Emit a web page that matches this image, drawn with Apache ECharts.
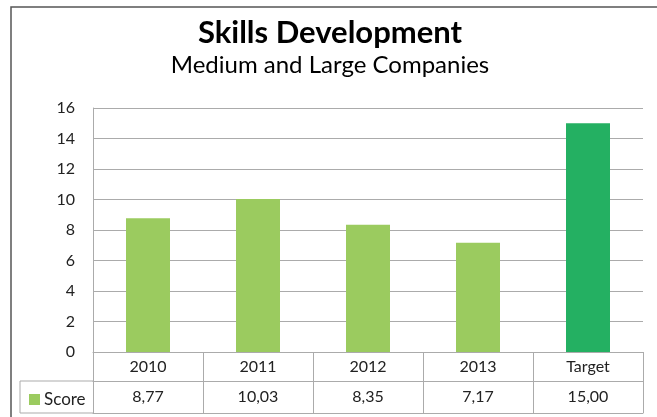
<!DOCTYPE html>
<html>
<head>
<meta charset="utf-8">
<script src="https://cdn.jsdelivr.net/npm/echarts@6/dist/echarts.min.js"></script>
<style>
  html, body { margin: 0; padding: 0; background: #fff; }
  #main { width: 657px; height: 417px; }
</style>
</head>
<body>
<div id="main"></div>
<script>
// chart data
var categories = ['2010', '2011', '2012', '2013', 'Target'];
var scores = [8.77, 10.03, 8.35, 7.17, 15.00];
var seriesName = 'Score';
var yTicks = { min: 0, max: 16, interval: 2 };

var lightGreen = '#9BCB5F';
var darkGreen = '#24B062';
var lineGray = '#ABABAB';
var font = 'Lato, "Open Sans", sans-serif';

var myChart = echarts.init(document.getElementById('main'));

// values shown in the data table row, comma as decimal mark
var scoreLabels = scores.map(function (v) {
    return v.toFixed(2).replace('.', ',');
});

var option = {
    backgroundColor: '#fff',
    animation: false,
    title: [{
        text: 'Skills Development',
        left: 325,
        top: 12,
        textAlign: 'center',
        textStyle: { fontFamily: font, fontSize: 31, fontWeight: 'bold', color: '#000' }
    }, {
        text: 'Medium and Large Companies',
        left: 325,
        top: 48,
        textAlign: 'center',
        textStyle: { fontFamily: font, fontSize: 24, fontWeight: 'normal', color: '#000' }
    }],
    legend: {
        data: [seriesName],
        left: 24,
        top: 386,
        icon: 'rect',
        itemWidth: 11,
        itemHeight: 11,
        itemGap: 4,
        textStyle: { fontFamily: font, fontSize: 17, color: '#222', padding: [0, 0, 0, -1] }
    },
    grid: { left: 93, right: 14, top: 108, bottom: 65 },
    xAxis: [{
        type: 'category',
        data: categories,
        position: 'bottom',
        axisLine: { lineStyle: { color: lineGray, width: 1 } },
        axisTick: { show: true, length: 61, lineStyle: { color: lineGray } },
        axisLabel: { margin: 7, fontFamily: font, fontSize: 16, color: '#222' }
    }, {
        type: 'category',
        data: scoreLabels,
        position: 'bottom',
        offset: 29,
        axisLine: { lineStyle: { color: lineGray, width: 1 } },
        axisTick: { show: false },
        axisLabel: { margin: 8, fontFamily: font, fontSize: 16, color: '#222' }
    }, {
        type: 'category',
        data: categories,
        position: 'bottom',
        offset: 61,
        axisLine: { lineStyle: { color: lineGray, width: 1 } },
        axisTick: { show: false },
        axisLabel: { show: false }
    }],
    yAxis: {
        type: 'value',
        min: yTicks.min,
        max: yTicks.max,
        interval: yTicks.interval,
        axisLine: { show: true, lineStyle: { color: lineGray } },
        axisTick: { show: false },
        splitLine: { lineStyle: { color: lineGray } },
        axisLabel: { margin: 18, fontFamily: font, fontSize: 16, color: '#222' }
    },
    series: [{
        name: seriesName,
        type: 'bar',
        xAxisIndex: 0,
        barWidth: '40%',
        itemStyle: { color: lightGreen },
        data: scores.map(function (v, i) {
            return categories[i] === 'Target'
                ? { value: v, itemStyle: { color: darkGreen } }
                : v;
        })
    }],
    graphic: [
        // outer chart frame
        { type: 'rect', shape: { x: 11, y: 7, width: 700, height: 500 },
          style: { fill: null, stroke: '#555', lineWidth: 1.5 }, silent: true },
        // legend cell of the data table
        { type: 'line', shape: { x1: 20, y1: 381, x2: 94, y2: 381 },
          style: { stroke: lineGray, lineWidth: 1 }, silent: true },
        { type: 'line', shape: { x1: 20, y1: 413, x2: 94, y2: 413 },
          style: { stroke: lineGray, lineWidth: 1 }, silent: true },
        { type: 'line', shape: { x1: 20, y1: 381, x2: 20, y2: 413 },
          style: { stroke: lineGray, lineWidth: 1 }, silent: true }
    ]
};

myChart.setOption(option);
</script>
</body>
</html>
